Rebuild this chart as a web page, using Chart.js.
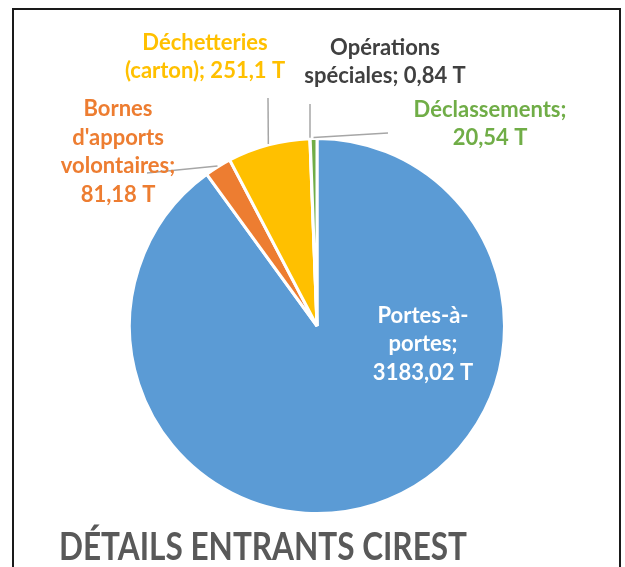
<!DOCTYPE html>
<html>
<head>
<meta charset="utf-8">
<script src="https://cdn.jsdelivr.net/npm/chart.js@4/dist/chart.umd.min.js"></script>
<style>
  html, body { margin: 0; padding: 0; background: #fff; }
  #wrap { position: relative; width: 625px; height: 567px; overflow: hidden; }
  #c { position: absolute; left: 0; top: 0; }
  #frame { position: absolute; left: 12px; top: 8px; width: 609px; height: 640px;
           box-sizing: border-box; border: 2px solid #1a1a1a; pointer-events: none; }
</style>
</head>
<body>
<div id="wrap">
  <canvas id="c" width="625" height="567"></canvas>
  <div id="frame"></div>
</div>
<script>
// ---- data ----
const categories = ["Portes-à-portes", "Bornes d'apports volontaires", "Déchetteries (carton)", "Opérations spéciales", "Déclassements"];
const tonnages = [3183.02, 81.18, 251.1, 0.84, 20.54];
const valueTexts = ["3183,02 T", "81,18 T", "251,1 T", "0,84 T", "20,54 T"];
const labelLines = [
  ["Portes-à-", "portes;", "3183,02 T"],
  ["Bornes", "d'apports", "volontaires;", "81,18 T"],
  ["Déchetteries", "(carton); 251,1 T"],
  ["Opérations", "spéciales; 0,84 T"],
  ["Déclassements;", "20,54 T"]
];
const chartTitle = "DÉTAILS ENTRANTS CIREST";

// ---- styles ----
const sliceColors = ["#5B9BD5", "#ED7D31", "#FFC000", "#A5A5A5", "#70AD47"];
const labelColors = ["#FFFFFF", "#ED7D31", "#FFC000", "#404040", "#70AD47"];
// label placement relative to pie centre (pixels), and leader line start
const labelPlacement = [
  { dx: 106, dy: 18, leader: null },
  { dx: -199, dy: -174, leader: [-170, -153] },
  { dx: -112, dy: -269, leader: [-49, -228] },
  { dx: 68, dy: -264, leader: [-7, -222] },
  { dx: 173, dy: -202, leader: [71, -193] }
];
const FONT = "Lato, 'DejaVu Sans', sans-serif";

const labelPlugin = {
  id: 'sliceLabels',
  afterDraw(chart) {
    const ctx = chart.ctx;
    const arcs = chart.getDatasetMeta(0).data;
    ctx.save();
    // leader lines
    arcs.forEach((arc, i) => {
      const p = labelPlacement[i];
      if (!p.leader) return;
      const mid = (arc.startAngle + arc.endAngle) / 2;
      const R = arc.outerRadius + 1;
      ctx.beginPath();
      ctx.strokeStyle = '#A6A6A6';
      ctx.lineWidth = 1.5;
      ctx.moveTo(arc.x + p.leader[0], arc.y + p.leader[1]);
      ctx.lineTo(arc.x + Math.cos(mid) * R, arc.y + Math.sin(mid) * R);
      ctx.stroke();
    });
    // labels
    ctx.font = "bold 22px " + FONT;
    ctx.textAlign = 'center';
    ctx.textBaseline = 'middle';
    const lh = 28.5;
    arcs.forEach((arc, i) => {
      const p = labelPlacement[i];
      const lines = labelLines[i];
      const cx = arc.x + p.dx, cy = arc.y + p.dy;
      ctx.fillStyle = labelColors[i];
      lines.forEach((t, k) => {
        ctx.fillText(t, cx, cy + (k - (lines.length - 1) / 2) * lh);
      });
    });
    // title (condensed horizontally to match a narrow bold face)
    ctx.font = "bold 38px " + FONT;
    ctx.textAlign = 'left';
    ctx.textBaseline = 'alphabetic';
    ctx.fillStyle = '#595959';
    const w = ctx.measureText(chartTitle).width;
    const sx = 408 / w;
    ctx.translate(59, 560);
    ctx.scale(sx, 1);
    ctx.fillText(chartTitle, 0, 0);
    ctx.restore();
  }
};

new Chart(document.getElementById('c'), {
  type: 'pie',
  data: {
    labels: categories,
    datasets: [{
      data: tonnages,
      backgroundColor: sliceColors,
      borderColor: '#FFFFFF',
      borderWidth: 3
    }]
  },
  options: {
    responsive: false,
    animation: false,
    devicePixelRatio: 1,
    layout: { padding: { left: 128, right: 119, top: 137, bottom: 52 } },
    plugins: { legend: { display: false }, tooltip: { enabled: false }, title: { display: false } }
  },
  plugins: [labelPlugin]
});
</script>
</body>
</html>
